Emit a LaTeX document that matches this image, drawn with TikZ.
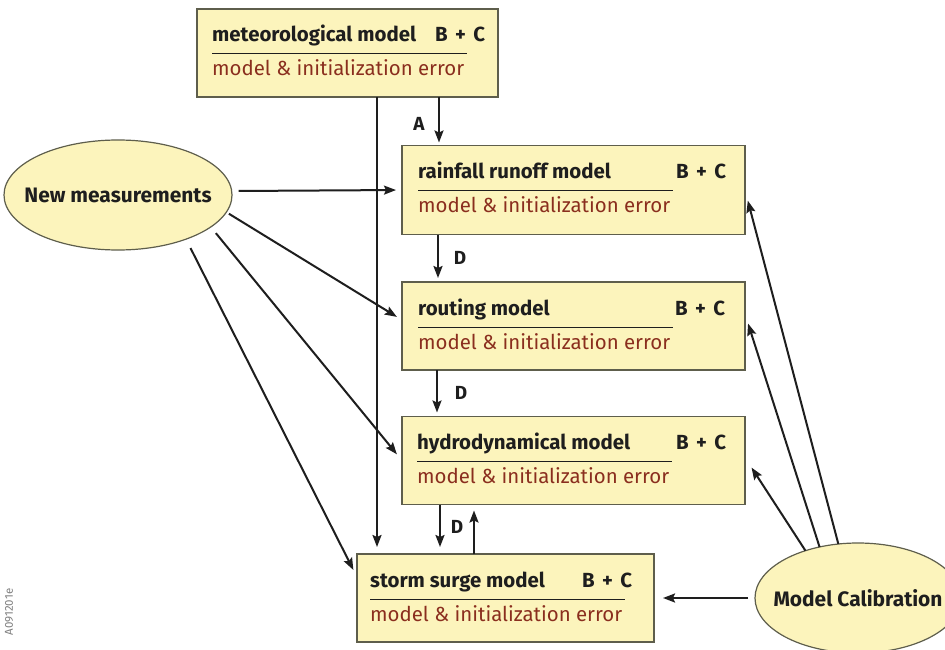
\documentclass[tikz,border=0pt]{standalone}
\usepackage{fontspec}
\setmainfont{Fira Sans}
\usetikzlibrary{arrows.meta,calc,shapes.geometric}

\definecolor{boxfill}{HTML}{FCF4BC}
\definecolor{boxline}{HTML}{5E5E4C}
\definecolor{errred}{HTML}{8A2E1E}
\definecolor{ink}{HTML}{1E1E1E}

\newcommand\bplusc{B\hspace{0.36em}+\hspace{0.36em}C}

% labels inside a model box: #1 box name, #2 title, #3 left inset, #4 inset of "B + C"
\newcommand\modellabels[4]{%
  \node[ttl] (#1-t) at ($(#1.north west)+(#3,33)$) {#2};
  \node[ttl] (#1-bc) at ($(#1.north west)+(#4,33)$) {\bplusc};
  \draw[rule] ($(#1.north west)+(#3,45)$) -- ++(255,0);
  \node[err] (#1-e) at ($(#1.north west)+(#3,67)$) {model \& initialization error};
}

\begin{document}
\begin{tikzpicture}[x=1bp,y=-1bp,
  modelbox/.style={draw=boxline,line width=1.2bp,fill=boxfill,rectangle,inner sep=0pt,outer sep=0pt},
  source/.style={draw=boxline,line width=1.2bp,fill=boxfill,ellipse,inner sep=0pt,outer sep=0pt},
  sourcetext/.style={inner sep=0pt,font=\fontsize{21}{24}\selectfont\bfseries,text=ink},
  ttl/.style={anchor=base west,inner sep=0pt,font=\fontsize{20.5}{23}\selectfont\bfseries,text=ink},
  err/.style={anchor=base west,inner sep=0pt,font=\fontsize{20.5}{23}\selectfont,text=errred},
  rule/.style={draw=ink,line width=1bp},
  arr/.style={draw=ink,line width=2bp,-{Stealth[length=12bp,width=9bp,inset=2bp]}},
  flowlbl/.style={font=\fontsize{19}{22}\selectfont\bfseries,text=ink,inner sep=0pt}
]
\useasboundingbox[fill=white] (0,0) rectangle (945,650);

% model chain
\node[modelbox,minimum width=301bp,minimum height=88bp] (met) at (347.5,53) {};
\node[modelbox,minimum width=343bp,minimum height=89bp] (rr) at (573.5,190) {};
\node[modelbox,minimum width=343bp,minimum height=88bp] (rt) at (573.5,326) {};
\node[modelbox,minimum width=343bp,minimum height=88bp] (hy) at (573.5,460.5) {};
\node[modelbox,minimum width=297bp,minimum height=88bp] (st) at (505.5,598) {};

\modellabels{met}{meteorological model}{15}{238}
\modellabels{rr}{rainfall runoff model}{16}{274}
\modellabels{rt}{routing model}{16}{273}
\modellabels{hy}{hydrodynamical model}{15}{274}
\modellabels{st}{storm surge model}{13}{225}

% sources of information
\node[source,minimum width=228bp,minimum height=110bp] (nm) at (118,195) {};
\node[sourcetext] (nm-t) at (nm.center) {New measurements};
\node[source,minimum width=206bp,minimum height=110bp] (mc) at (858,598) {};
\node[sourcetext] (mc-t) at (mc.center) {Model Calibration};

% forcing along the chain
\draw[arr,shorten >=7bp] ([xshift=29.5bp]met.south) -- ([xshift=29.5bp]met.south |- st.north);
\draw[arr,shorten >=3bp] ([xshift=37bp]rr.north west |- met.south) -- ([xshift=37bp]rr.north west);
\node[flowlbl] (lblA) at (419,124) {A};
\draw[arr,shorten >=4bp] ([xshift=36bp]rr.south west) -- ([xshift=36bp]rr.south west |- rt.north);
\node[flowlbl] (lblD1) at (460,258) {D};
\draw[arr,shorten >=4bp] ([xshift=35bp]rt.south west) -- ([xshift=35bp]rt.south west |- hy.north);
\node[flowlbl] (lblD2) at (461,393) {D};
\draw[arr,shorten >=7bp] ([xshift=38bp]hy.south west) -- ([xshift=38bp]hy.south west |- st.north);
\node[flowlbl] (lblD3) at (457,527) {D};
\draw[arr,shorten >=6bp] ([xshift=72bp]hy.south west |- st.north) -- ([xshift=72bp]hy.south west);

% new measurements
\draw[arr,shorten <=7bp,shorten >=6bp] (nm.2.5) -- (rr.west);
\draw[arr,shorten <=3bp,shorten >=6bp] (nm.-9.5) -- (rt.178);
\draw[arr,shorten <=8bp,shorten >=8bp] (nm.-19) -- (hy.west);
\draw[arr,shorten <=10bp,shorten >=8bp] (nm.-33.9) -- (st.172);

% model calibration
\draw[arr,shorten >=11bp] (mc.110) -- (rr.east);
\draw[arr,shorten >=10bp] (mc.127) -- (rt.4.3);
\draw[arr,shorten >=12bp] (mc.138) -- (hy.1.5);
\draw[arr,shorten <=7bp,shorten >=9bp] (mc.west) -- (st.east);

% figure code
\node[rotate=90,inner sep=0pt,font=\fontsize{11.5}{13}\selectfont,text=gray] (code) at (9,612) {A091201e};
\end{tikzpicture}
\end{document}
